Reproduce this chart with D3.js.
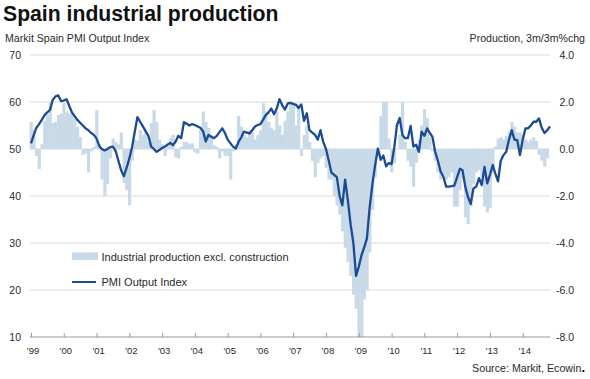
<!DOCTYPE html>
<html>
<head>
<meta charset="utf-8">
<script src="https://cdn.jsdelivr.net/npm/d3@7"></script>
<style>
  html, body { margin: 0; padding: 0; background: #fff; }
  svg { display: block; font-family: "Liberation Sans", Arial, sans-serif; }
</style>
</head>
<body>
<svg id="chart" width="590" height="379"></svg>
<script>
// ---- Data (monthly, Jan 1999 onwards) ----
const startMonth = new Date(1999, 0, 1);
const yearTicks = ["'99","'00","'01","'02","'03","'04","'05","'06","'07","'08","'09","'10","'11","'12","'13","'14"];
const leftTicks = [10, 20, 30, 40, 50, 60, 70];
const rightTicks = [-8, -6, -4, -2, 0, 2, 4];

// PMI Output Index (left axis), Jan 1999 - Nov 2014
const pmiOutput = [
  51.2, 53.0, 54.5, 55.3, 56.2, 57.2, 57.8, 58.3, 60.5, 61.2, 61.4, 60.2,
  60.3, 60.6, 59.2, 57.8, 57.0, 56.2, 55.6, 55.0, 54.4, 54.0, 53.4, 53.0,
  52.2, 50.6, 50.0, 49.7, 50.0, 50.4, 50.5, 49.6, 47.5, 45.5, 44.2, 46.0,
  48.0, 50.5, 53.5, 56.8, 55.8, 54.8, 53.8, 52.8, 50.5, 50.0, 49.4, 49.8,
  50.2, 50.5, 50.9, 51.3, 50.8, 51.6, 52.8, 52.3, 55.7, 55.4, 55.0, 55.3,
  55.1, 54.8, 54.5, 53.8, 51.6, 53.0, 52.6, 52.3, 52.8, 53.6, 54.4, 53.4,
  52.0, 51.2, 50.5, 50.1, 51.5, 52.5, 53.7, 53.5, 53.3, 54.0, 54.8, 55.1,
  55.3, 56.3, 57.2, 57.8, 58.6, 57.4, 58.6, 60.6, 59.3, 58.4, 59.7, 59.8,
  59.6, 59.4, 58.7, 59.5, 56.0, 57.6, 54.0, 53.5, 53.0, 52.0, 54.0, 51.5,
  50.0, 47.5, 45.0, 44.5, 44.0, 40.0, 38.0, 43.5, 39.0, 34.0, 30.0, 23.0,
  25.0, 27.5, 29.0, 31.0, 37.5, 42.5, 46.5, 50.1, 47.7, 48.6, 46.3, 47.0,
  46.8, 50.5, 55.0, 56.6, 53.0, 52.3, 52.3, 54.9, 50.5, 50.9, 49.4, 53.7,
  52.8, 54.4, 53.5, 52.6, 49.4, 47.5, 45.2, 44.1, 42.0, 42.0, 42.1, 42.2,
  44.0, 45.8, 45.5, 42.0, 39.8, 38.3, 41.6, 42.0, 43.8, 42.3, 46.2, 42.7,
  44.5, 46.6, 44.8, 43.1, 47.5, 48.7, 49.4, 52.0, 54.0, 52.0, 51.9, 48.7,
  52.0, 54.4, 54.4, 55.0, 55.8, 55.8, 56.5, 54.5, 53.4, 54.0, 54.8
];

// Industrial production excl. construction, 3m/3m %chg (right axis), Jan 1999 - Oct 2014
const indProd = [
  1.15, 0.8, -0.3, -0.85, 0.2, 1.2, 1.45, 2.0, 1.1, 1.15, 1.45, 1.5,
  1.95, 1.6, 1.5, 1.55, 1.3, 0.95, 0.5, -0.25, -0.2, -1.0, -0.1, 0.1,
  1.66, 0.2, -1.3, -2.0, -1.5, -0.4, 0.45, 0.3, 0.2, 0.7, -1.45, -1.75,
  -2.4, -0.5, 0.4, 0.35, 0.8, 0.6, 0.75, 0.3, 1.1, 1.66, 1.15, 0.4,
  0.2, -0.3, 0.1, 0.45, 0.6, -0.35, -0.4, 0.1, 0.3, 0.3, 0.2, 0.25,
  -0.15, -0.2, 0.8, 1.6, 1.15, 0.9, 0.6, 0.15, 0.1, -0.4, -0.1, -0.3,
  -0.3, -1.3, -0.1, 0.2, 1.4, 0.95, 0.6, 0.5, 0.8, 0.7, 0.4, 0.6,
  0.8, 1.95, 1.6, 1.15, 0.9, 0.8, 1.6, 1.0, 0.6, 1.2, 1.6, 1.95,
  1.95, 1.0, 1.9, -0.3, 0.6, 1.0, 0.3, -0.5, -1.2, -0.6, -0.4, -0.3,
  -0.8, -1.3, -1.3, -2.0, -2.4, -2.8, -3.5, -4.2, -4.8, -5.4, -6.2, -6.8,
  -8.0, -8.0, -6.4, -6.0, -4.4, -2.6, -1.2, -0.3, 1.4, 2.0, 2.0, 0.45,
  -1.0, -0.6, 0.0, 0.6, 2.0, 0.3, -0.5, -0.75, -1.6, -0.6, 0.4, 1.0,
  1.7, 1.3, 0.5, -0.1, -0.5, -1.0, -1.3, -1.1, -1.3, -1.2, -1.0, -2.45,
  -2.45, -1.75, -1.3, -2.9, -3.2, -2.45, -1.5, -1.0, -0.9, -1.2, -2.45, -2.7,
  -2.5, -1.0, 0.1, 0.45, 0.5, 0.4, 0.55, 0.75, 1.16, 0.95, 0.7, 0.7,
  0.6, 0.4, 0.3, 0.4, 0.5, 0.35, -0.25, -0.5, -0.75, -0.4
];

// ---- Layout ----
const svg = d3.select("#chart");
const L = 31, R = 550, T = 55, B = 337;
const barColor = "#c8d9e7";
const lineColor = "#1a4b94";
const textColor = "#2a2a2a";

const monthDate = i => d3.timeMonth.offset(startMonth, i);
const x = d3.scaleTime()
  .domain([startMonth, monthDate(pmiOutput.length - 1)])
  .range([L, R]);
const yL = d3.scaleLinear().domain([10, 70]).range([B, T]);
const yR = d3.scaleLinear().domain([-8, 4]).range([B, T]);

// Titles
svg.append("text").attr("x", 3).attr("y", 21)
  .attr("font-size", 21.2).attr("font-weight", "bold").attr("fill", "#111")
  .text("Spain industrial production");
svg.append("text").attr("x", 5).attr("y", 42)
  .attr("font-size", 10.6).attr("fill", textColor)
  .text("Markit Spain PMI Output Index");
svg.append("text").attr("x", 585).attr("y", 42).attr("text-anchor", "end")
  .attr("font-size", 10.6).attr("fill", textColor)
  .text("Production, 3m/3m%chg");

// Gridlines
svg.append("g").selectAll("line").data(leftTicks.filter(d => d > 10)).join("line")
  .attr("x1", L - 1).attr("x2", R)
  .attr("y1", d => yL(d)).attr("y2", d => yL(d))
  .attr("stroke", "#d9d9d9").attr("stroke-width", 1.2);

// Clip
svg.append("clipPath").attr("id", "plotclip").append("rect")
  .attr("x", L - 3).attr("y", T).attr("width", R - L + 6).attr("height", B - T);

// Bars
const bw = x(monthDate(1)) - x(monthDate(0));
svg.append("g").attr("clip-path", "url(#plotclip)")
  .selectAll("rect").data(indProd).join("rect")
  .attr("x", (d, i) => x(monthDate(i)) - bw / 2)
  .attr("width", bw + 0.4)
  .attr("y", d => Math.min(yR(d), yR(0)))
  .attr("height", d => Math.abs(yR(d) - yR(0)))
  .attr("fill", barColor);

// Bottom axis
const xAxis = d3.axisBottom(x)
  .tickValues(yearTicks.map((t, i) => new Date(1999 + i, 0, 1)))
  .tickFormat((d, i) => yearTicks[i])
  .tickSizeInner(-4).tickSizeOuter(0).tickPadding(10);
const gx = svg.append("g").attr("transform", `translate(0,${B})`).call(xAxis);
gx.select(".domain").attr("stroke", "#9a9a9a").attr("stroke-width", 1.2)
  .attr("d", `M${L - 1},0H${R}`);
gx.selectAll(".tick line").attr("stroke", "#9a9a9a");
gx.selectAll("text").attr("font-size", 9.5).attr("fill", textColor)
  .attr("font-family", "Liberation Sans, Arial, sans-serif").attr("dx", 1.5);

// Left axis labels
const gl = svg.append("g").attr("transform", `translate(${L},0)`)
  .call(d3.axisLeft(yL).tickValues(leftTicks).tickSize(0).tickPadding(10).tickFormat(d3.format("d")));
gl.select(".domain").remove();
gl.selectAll("text").attr("font-size", 10.5).attr("fill", textColor)
  .attr("font-family", "Liberation Sans, Arial, sans-serif");

// Right axis labels
const gr = svg.append("g").attr("transform", `translate(${R},0)`)
  .call(d3.axisRight(yR).tickValues(rightTicks).tickSize(0).tickPadding(0).tickFormat(d => d.toFixed(1)));
gr.select(".domain").remove();
gr.selectAll("text").attr("font-size", 10.5).attr("fill", textColor)
  .attr("text-anchor", "end").attr("x", 24)
  .attr("font-family", "Liberation Sans, Arial, sans-serif");

// PMI line
const line = d3.line()
  .x((d, i) => x(monthDate(i)))
  .y(d => yL(d));
svg.append("path").datum(pmiOutput)
  .attr("d", line)
  .attr("fill", "none").attr("stroke", lineColor)
  .attr("stroke-width", 2.3).attr("stroke-linejoin", "round");

// Legend
svg.append("rect").attr("x", 72).attr("y", 252.5).attr("width", 26).attr("height", 7.5).attr("fill", barColor);
svg.append("text").attr("x", 101.5).attr("y", 260.5).attr("font-size", 11).attr("fill", textColor)
  .text("Industrial production excl. construction");
svg.append("line").attr("x1", 72).attr("x2", 96).attr("y1", 282).attr("y2", 282)
  .attr("stroke", lineColor).attr("stroke-width", 2);
svg.append("text").attr("x", 101.5).attr("y", 286).attr("font-size", 11).attr("fill", textColor)
  .text("PMI Output Index");

// Source
const src = svg.append("text").attr("x", 585).attr("y", 372).attr("text-anchor", "end")
  .attr("font-size", 10.7).attr("fill", textColor);
src.append("tspan").text("Source: Markit, Ecowin");
src.append("tspan").attr("font-weight", "bold").attr("font-size", 13).attr("fill", "#000").text(".");
</script>
</body>
</html>
